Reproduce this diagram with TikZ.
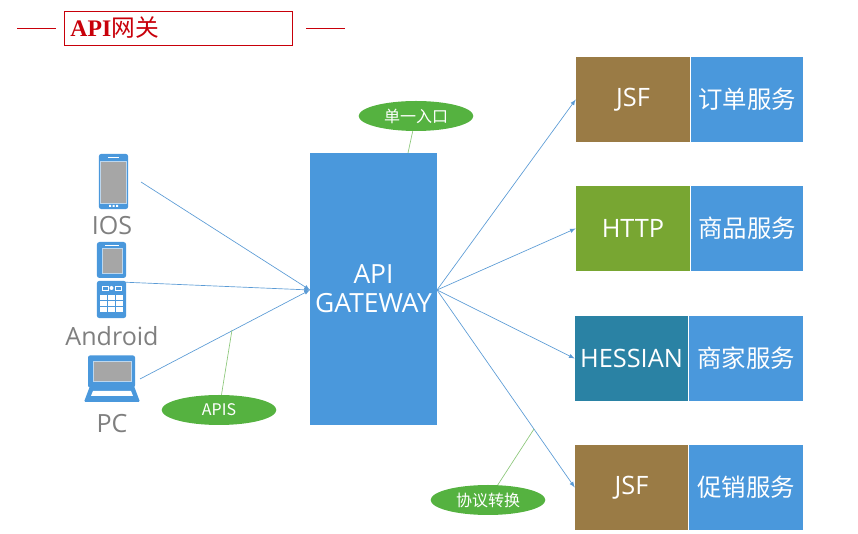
\documentclass[tikz,border=0pt]{standalone}
\usepackage{fontspec}
\setmainfont{Open Sans}
\newfontfamily\cjk{Noto Sans CJK SC}
\newfontfamily\titlefont{Liberation Serif}
\usepackage{xcolor}
\usetikzlibrary{calc,positioning,arrows,shapes}
\definecolor{boxblue}{HTML}{4A98DC}
\definecolor{linkblue}{HTML}{5B9BD5}
\definecolor{boxbrown}{HTML}{9A7B45}
\definecolor{boxgreen}{HTML}{78A632}
\definecolor{boxteal}{HTML}{2A82A4}
\definecolor{tagfill}{HTML}{55B240}
\definecolor{taglink}{HTML}{8CC77A}
\definecolor{titlered}{HTML}{C8000A}
\definecolor{screengray}{HTML}{A6A6A6}
\definecolor{screenline}{HTML}{BDD7EE}
\definecolor{labelgray}{HTML}{7F7F7F}
\begin{document}
\begin{tikzpicture}[
    x=0.75pt,y=-0.75pt,
    protobox/.style={text=white,inner sep=0pt,minimum height=63.75pt,font=\fontsize{19}{22}\selectfont},
    servicebox/.style={fill=boxblue,text=white,inner sep=0pt,minimum width=84pt,minimum height=63.75pt,font=\fontsize{18.3}{22}\selectfont\cjk},
    tag/.style={ellipse,fill=tagfill,text=white,inner sep=0pt,minimum width=86pt,minimum height=22.5pt,font=\fontsize{12}{14}\selectfont\cjk},
    devlabel/.style={text=labelgray,inner sep=0pt,font=\fontsize{18.8}{22}\selectfont},
    device/.style={fill=boxblue,inner sep=0pt,rounded corners=2pt},
    link/.style={draw=linkblue,line width=0.5pt,-latex},
    taglink/.style={draw=taglink,line width=0.5pt},
]
    \useasboundingbox (0,0) rectangle (858,534);

    % title
    \node [draw=titlered,line width=0.7pt,minimum width=171pt,minimum height=25.5pt,inner sep=0pt] (title box) at (178,28) {};
    \node [right=5pt of title box.west,text=titlered,inner sep=0pt,font=\fontsize{17.8}{20}\selectfont] (title) {\titlefont\bfseries API\cjk\mdseries 网关};
    \coordinate (rule a) at (17,28);
    \coordinate (rule b) at (56,28);
    \coordinate (rule c) at (306,28);
    \coordinate (rule d) at (345,28);
    \draw [titlered,line width=0.6pt] (rule a) -- (rule b);
    \draw [titlered,line width=0.6pt] (rule c) -- (rule d);

    % gateway
    \node [fill=boxblue,text=white,align=center,inner sep=0pt,minimum width=95.25pt,minimum height=204pt,font=\fontsize{19.8}{21.5}\selectfont] (gateway) at (373.5,289) {API\\GATEWAY};

    % services
    \node [protobox,fill=boxbrown,minimum width=85.5pt] (jsf a) at (633,99.5) {JSF};
    \node [servicebox,right=0.4pt of jsf a] (order) {订单服务};
    \node [protobox,fill=boxgreen,minimum width=85.5pt] (http) at (633,228.5) {HTTP};
    \node [servicebox,right=0.4pt of http] (goods) {商品服务};
    \node [protobox,fill=boxteal,minimum width=84.75pt] (hessian) at (631.5,358.5) {HESSIAN};
    \node [servicebox,minimum width=85.5pt,right=0.4pt of hessian] (seller) {商家服务};
    \node [protobox,fill=boxbrown,minimum width=84.75pt] (jsf b) at (631.5,487.5) {JSF};
    \node [servicebox,minimum width=85.5pt,right=0.4pt of jsf b] (promo) {促销服务};

    % phone
    \node [device,minimum width=22pt,minimum height=41.5pt] (ios) at (113.5,181.5) {};
    \fill [screengray] (100.5,161) rectangle (126,203);
    \draw [screenline,line width=0.6pt] (100.5,161) rectangle (126,203);
    \draw [white,line width=0.7pt] (108,157) -- (119,157);
    \fill [white] (109,205) rectangle ++(2,2) (112.5,205) rectangle ++(2,2) (116,205) rectangle ++(2,2);
    \node [devlabel] (ios label) at (112,226) {IOS};

    % flip phone
    \node [device,minimum width=22pt,minimum height=27pt] (android top) at (111.5,260) {};
    \fill [screengray] (102,248) rectangle (122,273);
    \draw [screenline,line width=0.6pt] (102,248) rectangle (122,273);
    \draw [white,line width=0.7pt] (105,245) -- (119,245);
    \node [device,minimum width=22pt,minimum height=28pt] (android) at (111.5,299.5) {};
    \draw [white,line width=0.5pt] (102,286) rectangle (108,290) (115,286) rectangle (121,290);
    \fill [white] (111.5,288) circle (2);
    \foreach \col in {100,108,116}
        \foreach \row in {295,301,307}
            \fill [white] (\col,\row) rectangle ++(7,5);
    \node [devlabel] (android label) at (112,336) {Android};

    % laptop
    \node [device,minimum width=35.25pt,minimum height=24pt,rounded corners=1.5pt] (pc) at (111.5,371.5) {};
    \fill [screengray] (93,361) rectangle (131,381);
    \draw [screenline,line width=0.6pt] (93,361) rectangle (131,381);
    \fill [boxblue,rounded corners=1pt] (90,386) -- (134,386) -- (140,402) -- (84,402) -- cycle;
    \fill [white] (93,391) -- (131,391) -- (133,396) -- (91,396) -- cycle;
    \node [devlabel] (pc label) at (112,424) {PC};

    % links
    \coordinate (gateway in) at (310,290);
    \coordinate (gateway out) at (437,290);
    \coordinate (ios out) at (141,182);
    \coordinate (android out) at (120,282);
    \coordinate (pc out) at (140,379);
    \draw [link] (ios out) -- (gateway in);
    \draw [link] (android out) -- (gateway in);
    \draw [link] (pc out) -- (gateway in);
    \draw [link] (gateway out) -- (jsf a.west);
    \draw [link] (gateway out) -- (http.west);
    \draw [link] (gateway out) -- (hessian.west);
    \draw [link] (gateway out) -- (jsf b.west);

    % tags
    \coordinate (entry foot) at (408,153);
    \coordinate (apis foot) at (232,330);
    \coordinate (convert foot) at (534,429);
    \node [tag] (entry) at (416,116) {单一入口};
    \node [tag] (apis) at (219,410) {APIS};
    \node [tag] (convert) at (488,500) {协议转换};
    \draw [taglink] (entry foot) -- (entry);
    \draw [taglink] (apis foot) -- (apis);
    \draw [taglink] (convert foot) -- (convert);
\end{tikzpicture}
\end{document}
